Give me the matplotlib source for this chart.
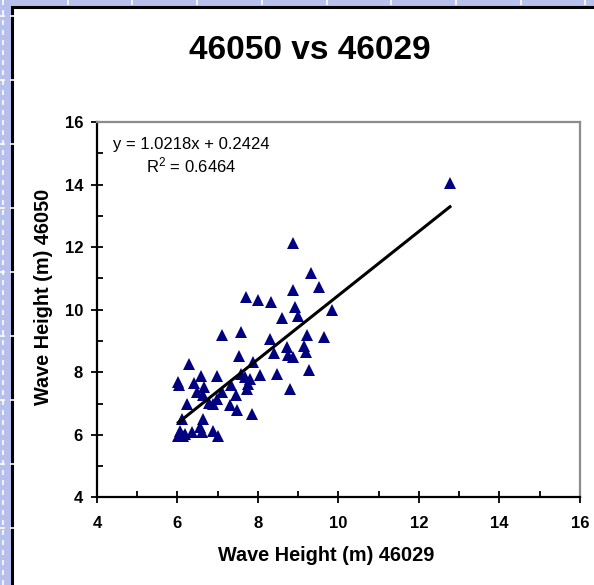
import matplotlib.pyplot as plt
import numpy as np
from matplotlib.patches import Rectangle
from matplotlib.ticker import MultipleLocator

plt.rcParams['font.family'] = ['Liberation Sans', 'DejaVu Sans']

# wave height pairs (46029 on x, 46050 on y)
x_46029 = [8.88, 9.31, 9.52, 8.88, 7.69, 8.01, 8.32, 8.92, 9.84, 8.99,
           8.60, 7.11, 7.57, 8.29, 9.23, 9.63, 9.15, 8.73, 9.19, 8.41,
           8.75, 8.86, 7.53, 7.88, 6.29, 9.27, 8.48, 8.80, 6.02, 6.03,
           6.58, 6.97, 6.42, 6.67, 6.49, 7.59, 7.68, 7.80, 8.05, 7.76,
           7.72, 7.33, 7.10, 7.45, 6.64, 6.79, 6.89, 6.97, 6.24, 7.30,
           7.49, 7.84, 6.10, 6.64, 6.56, 6.06, 6.19, 6.35, 6.02, 6.62,
           6.87, 7.01, 6.13, 12.77]
y_46050 = [12.12, 11.16, 10.73, 10.62, 10.41, 10.30, 10.25, 10.09, 9.98, 9.79,
           9.72, 9.18, 9.29, 9.08, 9.18, 9.13, 8.83, 8.81, 8.65, 8.62,
           8.54, 8.49, 8.51, 8.33, 8.28, 8.06, 7.96, 7.48, 7.69, 7.60,
           7.88, 7.88, 7.66, 7.53, 7.37, 7.96, 7.85, 7.80, 7.90, 7.64,
           7.48, 7.58, 7.37, 7.26, 7.26, 7.02, 7.00, 7.16, 7.00, 6.94,
           6.80, 6.66, 6.52, 6.52, 6.25, 6.14, 6.04, 6.09, 5.98, 6.09,
           6.11, 5.98, 5.98, 14.06]

slope = 1.0218
intercept = 0.2424
r_squared = 0.6464

fig = plt.figure(figsize=(5.94, 5.85), dpi=100)

# excel-style background
bg = fig.add_axes([0, 0, 1, 1], zorder=-10)
bg.set_xlim(0, 594)
bg.set_ylim(585, 0)
bg.axis('off')
bg.add_patch(Rectangle((0, 0), 594, 585, facecolor='#b7c0ec', edgecolor='none'))
for gx in np.arange(3, 594, 64.7):
    bg.axvline(gx, color='white', lw=1.2, ls=(0, (3, 3)))
for gy in np.arange(16, 585, 64):
    bg.axhline(gy, color='white', lw=1.2, ls=(0, (3, 3)))
bg.add_patch(Rectangle((12, 7), 600, 600, facecolor='white', edgecolor='black', lw=2.2))

fig.text(0.522, 0.913, '46050 vs 46029', ha='center', va='center',
         fontsize=24, fontweight='bold')

ax = fig.add_axes([0.1633, 0.1496, 0.8131, 0.6419])
ax.set_facecolor('none')
ax.plot(x_46029, y_46050, linestyle='none', marker='^', ms=8.5,
        color='#000080', markeredgewidth=0, clip_on=False)

x_fit = np.array([min(x_46029), max(x_46029)])
ax.plot(x_fit, slope * x_fit + intercept, color='black', lw=2.2)

ax.set_xlim(4, 16)
ax.set_ylim(4, 16)
ax.xaxis.set_major_locator(MultipleLocator(2))
ax.yaxis.set_major_locator(MultipleLocator(2))
ax.xaxis.set_minor_locator(MultipleLocator(1))
ax.yaxis.set_minor_locator(MultipleLocator(1))
ax.tick_params(which='major', direction='inout', length=8, width=1.3,
               labelsize=12)
ax.tick_params(which='minor', direction='in', length=4, width=1.3)
ax.tick_params(axis='x', pad=9)
ax.tick_params(axis='y', pad=6)
for lab in ax.get_xticklabels() + ax.get_yticklabels():
    lab.set_fontweight('bold')

for s in ['left', 'bottom']:
    ax.spines[s].set_linewidth(1.6)
    ax.spines[s].set_color('black')
for s in ['top', 'right']:
    ax.spines[s].set_linewidth(1.6)
    ax.spines[s].set_color('#8c8c8c')

ax.set_xlabel('Wave Height (m) 46029', fontsize=14.3, fontweight='bold')
ax.set_ylabel('Wave Height (m) 46050', fontsize=14.3, fontweight='bold')
ax.xaxis.set_label_coords(0.474, -0.13)
ax.yaxis.set_label_coords(-0.091, 0.534)

ax.text(0.195, 0.94, 'y = %.4fx + %.4f' % (slope, intercept), transform=ax.transAxes,
        ha='center', va='center', fontsize=12)
ax.text(0.195, 0.885, '$\\mathregular{R^2}$ = %.4f' % r_squared, transform=ax.transAxes,
        ha='center', va='center', fontsize=12)

fig.savefig('out.png', dpi=100)
